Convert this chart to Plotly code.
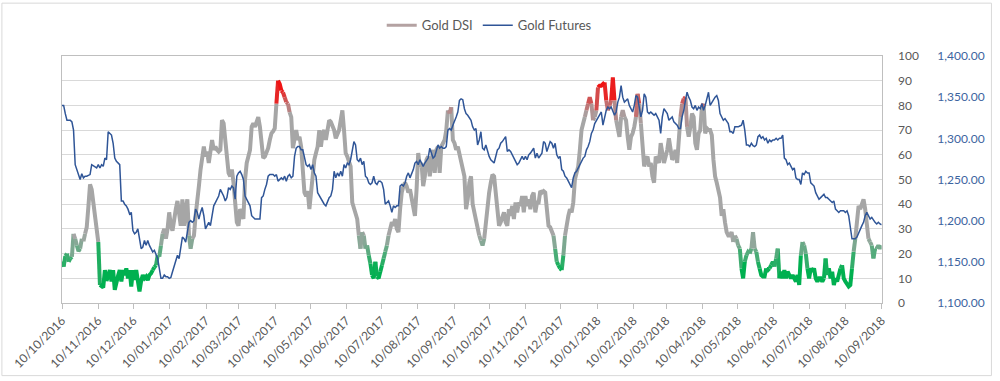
import pandas as pd
import plotly.graph_objects as go

# ---------------- data ----------------
start_date = "2016-10-10"
end_date = "2018-09-10"

gold_dsi = [
    16.7,14.7,19,20,16.7,18,18.7,28,26,23.3,
    21,22,26,25,28,30.7,39,48,46,40.7,
    36,30,24.7,7.3,6.7,6.3,13.3,9,11,13.3,
    8.7,13.3,5.3,8.7,11,13.3,8.7,13.3,11.3,14,
    10,13.3,6.7,13.3,9.3,13.3,8,4.7,9,11.3,
    10,10.7,9.3,11.3,12,13.3,14.5,15.3,19.3,18.7,
    23.3,28,30,26,30,36.7,31.3,29.3,35,38,
    41.3,36.7,31.3,42,31.3,38,42,27.3,22,26,
    27.3,35.3,43.3,47.3,54,59.3,63.3,59.3,61.3,56.7,
    62,66,62,63.3,62,61.3,62,74,72.7,66.7,
    62,52.7,51.3,54,48.7,40.7,32.7,31.3,38,36.7,
    34,50,56.7,59.3,62,71.3,72.7,71.3,73.3,75.3,
    71.3,63.3,58.7,59.3,61,
    62.7,66,68.7,69.5,70.7,80.7,90,88.7,86,85.3,
    83.3,81.3,80.7,77.3,75.3,62.7,67.3,70,66,67.3,
    63.3,55.3,44.7,43.3,45.3,38,44.7,55.3,58,60.7,
    63.3,70,63.3,68.7,70,66,70,74,73.3,71.3,
    70,66.7,68.7,70,74,78,70,60.7,59.3,56.7,
    55.3,40.7,38,36.7,34,27.3,22,28.7,27.3,22,
    23.3,19.3,16,11.3,10,16.7,10.7,10,12.7,15.3,
    18,20.7,23.3,27.3,30,32.7,31.3,34,30,28.7,
    38,44.7,47.3,48.7,47.3,44.7,46,42,39.3,35.3,
    46,60.7,55.3,56.7,47.3,51.3,58,59.3,51.3,58,
    62,52.7,62,63.3,52.7,63.3,64.7,66,70,78,
    76.7,79.3,66,64.7,62,63.3,60.7,56.7,55.3,51.3,
    38,42,48.7,51.3,40,
    36.7,35.3,30,27.3,25.3,23.3,26,32.7,40.7,44.7,
    48.7,52,51.3,43.3,38,31.3,32.7,35.3,36.7,32.7,
    31.3,38,35.3,39.3,34,40.7,36.7,40.7,39.3,43.3,
    36.7,43.3,39.3,42,38,43.3,44.7,36.7,40.7,40.7,
    45.3,44.7,45.3,44.7,39.3,31.3,30.7,29.3,27.3,22,
    16.7,15.3,14,13.3,19.3,27.3,32.7,35.3,38,36.7,
    40.7,50,52.7,55.3,62,70,72.7,75.3,78,80.7,
    83.3,80.7,74,75.3,78,87.3,88,88,88.7,89.3,
    82,78,80,82,91.3,82,74,70,67.3,75.3,
    78,75.3,74,67.3,62,67.3,68.7,71.3,75.3,84.7,
    80.7,72.7,62,55.3,58,59.3,55.3,56.7,51.3,48.7,
    59.3,58,56.7,64.7,60.7,56.7,59.3,62,66.7,62,
    58,59.3,62,56.7,64,
    75.3,80.7,82.7,83.3,71.3,67.3,71.3,76.7,75.3,64.7,
    62,68.7,70,79.3,80.7,68.7,70.7,70,70,68,
    58,51.3,48.7,46,42.7,35.3,38,32.7,28.7,27.3,
    27.3,28.7,24.7,27.3,26,23.3,22,14,10,16.7,
    19.3,20.7,20,22,28.7,22,20.7,16.7,14,11.3,
    10.7,10.7,14,13.3,14,15.3,16.7,14.7,18,22,
    10,12.7,10,13.3,10,12.7,11.3,10,11.3,10,
    8.7,11.3,7.3,19.3,24.7,23.3,20,14,10,14,
    12.7,14,10,8.7,10,10,8.7,10,18,11.3,
    14,10,12.7,7.3,10,8.7,11.3,14,15.3,10,
    8.7,7.3,6.7,7.3,14,20.7,26,34,39.3,38,
    40.7,42,38,30,26,24.7,23.3,18,22,22,
    23.3,22,23.3,
]

gold_futures = [
    1340,1340,1330,1322,1322,1322,1320,1310,1268,1262,
    1254,1250,1257,1252,1254,1254,1255,1256,1268,1267,
    1266,1264,1268,1264,1268,1266,1276,1274,1308,1306,
    1304,1294,1276,1272,1270,1268,1224,1224,1220,1218,
    1214,1208,1210,1188,1184,1186,1190,1178,1166,1168,
    1176,1170,1176,1170,1166,1162,1164,1160,1154,1142,
    1130,1130,1134,1132,1132,1130,1131,1138,1144,1152,
    1158,1154,1166,1180,1178,1174,1186,1198,1200,1198,
    1200,1214,1210,1202,1210,1216,1206,1190,1194,1198,
    1194,1208,1218,1222,1226,1230,1238,1234,1230,1224,
    1228,1240,1238,1242,1240,1226,1254,1258,1260,1256,
    1250,1230,1226,1222,1218,1206,1204,1202,1202,1202,
    1202,1228,1230,1238,1244,
    1254,1256,1256,1256,1254,1256,1248,1250,1252,1250,
    1254,1248,1254,1256,1252,1254,1278,1288,1290,1290,
    1286,1286,1278,1268,1266,1268,1262,1268,1258,1254,
    1234,1230,1228,1222,1220,1218,1224,1228,1230,1238,
    1260,1252,1258,1254,1260,1254,1268,1264,1270,1268,
    1274,1286,1296,1292,1274,1272,1276,1268,1272,1254,
    1252,1246,1244,1246,1254,1246,1244,1248,1248,1246,
    1238,1220,1222,1224,1218,1210,1218,1216,1218,1218,
    1242,1244,1242,1246,1254,1258,1252,1256,1262,1270,
    1272,1268,1274,1270,1266,1270,1274,1276,1288,1282,
    1276,1278,1286,1292,1288,1290,1288,1288,1290,1310,
    1312,1310,1316,1320,1326,1332,1346,1348,1347,1336,
    1330,1328,1324,1322,1314,
    1310,1312,1292,1298,1308,1288,1286,1292,1284,1278,
    1274,1272,1270,1278,1286,1288,1294,1296,1300,1302,
    1284,1286,1284,1280,1278,1272,1268,1270,1274,1278,
    1274,1278,1274,1280,1282,1286,1288,1276,1282,1276,
    1280,1282,1296,1294,1284,1290,1296,1294,1288,1294,
    1280,1276,1278,1262,1260,1254,1252,1248,1244,1240,
    1252,1258,1260,1264,1266,1270,1276,1278,1286,1290,
    1296,1306,1310,1318,1322,1326,1330,1332,1316,1326,
    1334,1338,1336,1338,1334,1328,1332,1344,1350,1364,
    1350,1344,1346,1348,1340,1336,1332,1340,1352,1350,
    1338,1326,1334,1354,1350,1332,1330,1332,1330,1328,
    1330,1326,1322,1306,1326,1336,1332,1330,1322,1324,
    1326,1320,1318,1316,1312,
    1312,1326,1334,1346,1356,1350,1346,1338,1336,1340,
    1334,1338,1336,1342,1334,1340,1348,1356,1340,1344,
    1348,1350,1352,1346,1330,1326,1322,1324,1320,1318,
    1308,1308,1306,1314,1314,1314,1315,1316,1322,1310,
    1292,1292,1290,1294,1291,1290,1292,1302,1304,1300,
    1302,1298,1300,1294,1298,1296,1298,1298,1300,1298,
    1300,1300,1304,1276,1274,1268,1270,1266,1262,1264,
    1252,1250,1250,1244,1258,1256,1260,1258,1258,1246,
    1244,1242,1234,1230,1226,1228,1230,1232,1228,1228,
    1226,1224,1222,1224,1214,1212,1210,1212,1212,1212,
    1210,1212,1206,1190,1178,1178,1178,1180,1184,1190,
    1194,1198,1206,1210,1206,1202,1204,1200,1198,1196,
    1198,1196,1195,
]

if len(gold_dsi) != len(gold_futures):
    raise ValueError(f"length mismatch {len(gold_dsi)} vs {len(gold_futures)}")

# observation dates: evenly spread over the sampled period
dates = pd.date_range(start_date, end_date, periods=len(gold_dsi))
month_ticks = pd.date_range(start_date, end_date, freq=pd.DateOffset(months=1))

# ---------------- styling ----------------
GRAY = (166, 166, 166)
RED = (240, 20, 20)
GREEN = (0, 176, 80)
BLUE = "#2f5597"
TXT = "#595959"
FONT = "Lato"
LEVELS = 16


def mix(c1, c2, t):
    return "rgb(%d,%d,%d)" % tuple(round(a + (b - a) * t) for a, b in zip(c1, c2))


def dsi_color(v):
    if v >= 76:
        t = min((v - 76) / 11.0, 1.0)
        return mix(GRAY, RED, round(t * LEVELS) / LEVELS)
    if v <= 27:
        t = min((27 - v) / 14.0, 1.0)
        return mix(GRAY, GREEN, round(t * LEVELS) / LEVELS)
    return mix(GRAY, GRAY, 0)


# group consecutive segments with the same colour into runs
runs = []
for i in range(len(gold_dsi) - 1):
    c = dsi_color((gold_dsi[i] + gold_dsi[i + 1]) / 2)
    if runs and runs[-1][0] == c and runs[-1][2] == i:
        runs[-1][2] = i + 1
    else:
        runs.append([c, i, i + 1])

by_color = {}
for c, a, b in runs:
    xs, ys = by_color.setdefault(c, ([], []))
    xs.extend(list(dates[a:b + 1]) + [None])
    ys.extend(gold_dsi[a:b + 1] + [None])

fig = go.Figure()

# legend entry for the gradient line
fig.add_trace(go.Scatter(x=[None], y=[None], mode="lines", name="Gold DSI",
                         line=dict(color="#b4a2a2", width=3), yaxis="y"))

for c, (xs, ys) in by_color.items():
    fig.add_trace(go.Scatter(x=xs, y=ys, mode="lines", showlegend=False,
                             line=dict(color=c, width=4), hoverinfo="skip",
                             connectgaps=False, yaxis="y"))

fig.add_trace(go.Scatter(x=dates, y=gold_futures, mode="lines", name="Gold Futures",
                         line=dict(color=BLUE, width=1.5), yaxis="y2"))

W, H = 1000, 381
ML, MR, MT, MB = 62, 10, 55, 76
pw = W - ML - MR
ph = H - MT - MB


def px_x(p):
    return (p - ML) / pw


def px_y(p):
    return (H - MB - p) / ph


fig.update_layout(
    width=W, height=H,
    margin=dict(l=ML, r=MR, t=MT, b=MB),
    paper_bgcolor="white", plot_bgcolor="white",
    font=dict(family=FONT, color=TXT, size=12),
    showlegend=True,
    legend=dict(orientation="h", x=px_x(492), xanchor="center", y=px_y(24), yanchor="middle",
                font=dict(size=13, color=TXT), bgcolor="rgba(0,0,0,0)"),
    xaxis=dict(
        domain=[0, px_x(887)],
        type="date",
        range=[start_date, end_date],
        tickmode="array", tickvals=list(month_ticks), tickformat="%d/%m/%Y",
        tickangle=-45, ticks="outside", ticklen=5, tickcolor="#bfbfbf",
        showline=True, linecolor="#bfbfbf", linewidth=1, mirror=True,
        showgrid=False, zeroline=False,
        tickfont=dict(size=12, color=TXT, family=FONT),
    ),
    yaxis=dict(
        side="right", anchor="x", range=[0, 100], dtick=10, tick0=0,
        showgrid=True, gridcolor="#d9d9d9", gridwidth=1,
        showline=True, linecolor="#bfbfbf", mirror=True,
        ticks="", ticklabelstandoff=13, zeroline=False,
        tickfont=dict(size=12, color=TXT, family=FONT),
    ),
    yaxis2=dict(
        overlaying="y", side="right", anchor="free", position=px_x(942),
        range=[1100, 1400], dtick=50, tick0=1100, tickformat=",.2f",
        showgrid=False, showline=False, ticks="", zeroline=False,
        tickfont=dict(size=12, color="#3c64a0", family=FONT),
    ),
    shapes=[dict(type="rect", xref="paper", yref="paper",
                 x0=px_x(1.5), x1=px_x(997.5), y0=px_y(378.5), y1=px_y(1.5),
                 line=dict(color="#d9d9d9", width=1), layer="below")],
)

fig.write_html("out.html", config={"displayModeBar": False},
               post_script="document.body.style.margin='0';")
